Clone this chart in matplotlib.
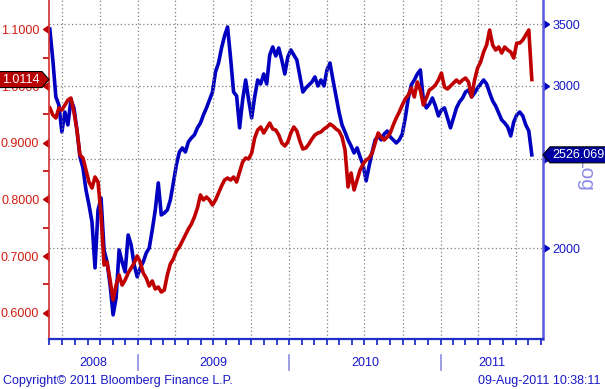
import numpy as np
import pandas as pd
import matplotlib
matplotlib.use('Agg')
import matplotlib.pyplot as plt
import matplotlib.dates as mdates
from matplotlib.ticker import FixedLocator, NullLocator, NullFormatter, FuncFormatter
from matplotlib.patches import Polygon
from matplotlib.transforms import IdentityTransform, blended_transform_factory

plt.rcParams['font.family'] = ['Liberation Sans', 'DejaVu Sans']

# data (~weekly samples)
start_date = '2008-06-02'
end_date = '2011-08-09'

ratio = [0.9612, 0.9489, 0.9436, 0.9612, 0.9577, 0.9665, 0.9753, 0.9788, 0.9541, 0.9224,
         0.8783, 0.8730, 0.8519, 0.8307, 0.8201, 0.8395, 0.8307, 0.7725, 0.6843, 0.6896,
         0.6578, 0.6226, 0.6490, 0.6667, 0.6490, 0.6578, 0.6702, 0.6790, 0.6878, 0.7002,
         0.6896, 0.6702, 0.6614, 0.6473, 0.6561, 0.6420, 0.6455, 0.6367, 0.6402, 0.6667,
         0.6861, 0.6949, 0.7090, 0.7160, 0.7266, 0.7372, 0.7478, 0.7566, 0.7690, 0.7848,
         0.8078, 0.7989, 0.8042, 0.7989, 0.7901, 0.7989, 0.8113, 0.8236, 0.8342, 0.8377,
         0.8342, 0.8395, 0.8307, 0.8483, 0.8660, 0.8730, 0.8713, 0.8818, 0.9083, 0.9224,
         0.9277, 0.9171, 0.9259, 0.9347, 0.9242, 0.9224, 0.9136, 0.8995, 0.8942, 0.9012,
         0.9171, 0.9277, 0.9206, 0.9030, 0.8889, 0.8907, 0.8977, 0.9065, 0.9136, 0.9171,
         0.9189, 0.9242, 0.9277, 0.9330, 0.9295, 0.9242, 0.9206, 0.9101, 0.8871, 0.8219,
         0.8466, 0.8166, 0.8342, 0.8519, 0.8624, 0.8695, 0.8730, 0.8818, 0.8995, 0.9171,
         0.9101, 0.9048, 0.9101, 0.9171, 0.9312, 0.9436, 0.9541, 0.9665, 0.9771, 0.9841,
         0.9965, 0.9806, 1.0071, 0.9929, 0.9665, 0.9788, 0.9929, 0.9965, 1.0018, 1.0106,
         1.0229, 0.9982, 0.9947, 1.0000, 1.0053, 1.0106, 1.0053, 1.0106, 1.0141, 1.0071,
         0.9806, 1.0106, 1.0317, 1.0423, 1.0600, 1.0723, 1.0988, 1.0723, 1.0635, 1.0688,
         1.0582, 1.0688, 1.0635, 1.0600, 1.0494, 1.0758, 1.0758, 1.0811, 1.0899, 1.0988,
         1.0114]

shcomp = [3458, 3201, 2919, 2861, 2674, 2811, 2722, 2897, 2840, 2688,
          2513, 2445, 2314, 2229, 2136, 1905, 2201, 2268, 1992, 1933,
          1826, 1694, 1767, 1992, 1933, 1886, 2068, 2017, 1919, 1863,
          1905, 1933, 1977, 2002, 2094, 2201, 2355, 2174, 2185, 2201,
          2257, 2355, 2463, 2544, 2570, 2544, 2609, 2635, 2655, 2702,
          2735, 2791, 2840, 2897, 2955, 3107, 3177, 3298, 3399, 3476,
          3217, 2955, 2926, 2702, 2897, 3045, 2897, 2770, 2919, 3045,
          3015, 3091, 3015, 3241, 3307, 3233, 3298, 3201, 3091, 3225,
          3282, 3241, 3201, 3076, 2955, 2985, 3008, 3030, 3068, 3000,
          3045, 3000, 3122, 3177, 3045, 2926, 2811, 2722, 2674, 2622,
          2583, 2538, 2570, 2513, 2463, 2367, 2457, 2544, 2622, 2648,
          2622, 2661, 2681, 2642, 2622, 2602, 2622, 2661, 2770, 2911,
          3008, 3045, 3091, 3122, 2897, 2840, 2868, 2911, 2854, 2784,
          2825, 2840, 2770, 2702, 2770, 2840, 2883, 2911, 2955, 2970,
          2919, 2948, 2985, 3015, 3045, 3015, 2948, 2890, 2854, 2805,
          2756, 2735, 2708, 2648, 2742, 2791, 2811, 2784, 2722, 2681,
          2526.069]

left_ticks = [0.6, 0.7, 0.8, 0.9, 1.0, 1.1]
left_minor = [0.65, 0.75, 0.85, 0.95, 1.05]
right_ticks = [2000, 2500, 3000, 3500]
years = [2008, 2009, 2010, 2011]

dates = pd.date_range(start_date, end_date, periods=len(ratio))

RED = '#c00000'
BLUE = '#0000c0'
RED_TXT = '#d01c10'
BLUE_TXT = '#1818c8'
GRID = '#808080'

fig = plt.figure(figsize=(6.05, 3.89), dpi=100)
ax = fig.add_axes([49 / 605, 50 / 389, 494 / 605, 339 / 389])
ax2 = ax.twinx()
ax.set_zorder(ax2.get_zorder() + 1)
ax.patch.set_visible(False)

ax2.plot(dates, shcomp, color=BLUE, lw=2.6, solid_joinstyle='round')
ax.plot(dates, ratio, color=RED, lw=2.6, solid_joinstyle='round')

ax.set_xlim(pd.Timestamp('2008-05-31'), pd.Timestamp('2011-09-05'))
ax.set_ylim(0.5538, 1.1517)
ax2.set_yscale('log')
ax2.set_ylim(1595, 3718)

# left axis (red)
ax.yaxis.set_major_locator(FixedLocator(left_ticks))
ax.yaxis.set_minor_locator(FixedLocator(left_minor))
ax.yaxis.set_major_formatter(FuncFormatter(lambda v, p: f'{v:.4f}'))
ax.tick_params(axis='y', which='major', length=0, pad=7, labelcolor=RED_TXT, labelsize=9)
ax.tick_params(axis='y', which='minor', length=4, width=1.2, color=RED)
ax.plot([0] * len(left_ticks), left_ticks, ls='none', marker=8, ms=6, color=RED,
        transform=ax.get_yaxis_transform(), clip_on=False)

# right axis (blue, log)
ax2.yaxis.set_major_locator(FixedLocator(right_ticks))
ax2.yaxis.set_minor_locator(NullLocator())
ax2.yaxis.set_major_formatter(FuncFormatter(lambda v, p: f'{v:.0f}'))
ax2.tick_params(axis='y', which='major', length=0, pad=7, labelcolor=BLUE_TXT, labelsize=9)
ax2.plot([1] * len(right_ticks), right_ticks, ls='none', marker=9, ms=6, color=BLUE,
         transform=ax2.get_yaxis_transform(), clip_on=False)
ax2.yaxis.grid(True, color=GRID, linestyle=(0, (1, 2)), lw=0.9)
ax2.set_axisbelow(True)

# time axis
ax.xaxis.set_major_locator(mdates.MonthLocator(bymonth=[1, 4, 7, 10]))
ax.xaxis.set_minor_locator(mdates.MonthLocator())
ax.xaxis.set_major_formatter(NullFormatter())
ax.tick_params(axis='x', which='both', length=4, width=1.3, color='#2030c8')
ax.xaxis.grid(True, which='major', color=GRID, linestyle=(0, (1, 2)), lw=0.9)
ax.set_axisbelow(True)

for a in (ax, ax2):
    a.spines['top'].set_visible(False)
ax.spines['right'].set_visible(False)
ax2.spines['left'].set_visible(False)
ax2.spines['bottom'].set_visible(False)
ax.spines['left'].set_color('#d03030')
ax.spines['left'].set_linewidth(1.2)
ax.spines['bottom'].set_color('#2030c8')
ax.spines['bottom'].set_linewidth(1.6)
ax2.spines['right'].set_color('#5a5ae0')
ax2.spines['right'].set_linewidth(1.8)

# year labels and separators under the axis
x0, x1 = ax.get_xlim()
tf = blended_transform_factory(ax.transData, fig.transFigure)
for yr in years:
    a = max(mdates.date2num(pd.Timestamp(f'{yr}-01-01')), x0)
    b = min(mdates.date2num(pd.Timestamp(f'{yr + 1}-01-01')), x1)
    ax.text((a + b) / 2, 26 / 389, str(yr), transform=tf, ha='center', va='center',
            fontsize=9, color=BLUE_TXT)
    if yr > years[0]:
        ax.plot([a, a], [19 / 389, 34 / 389], transform=tf, color='#8c8ce0', lw=1.2,
                clip_on=False)

fig.text(3 / 605, 8 / 389, 'Copyright\u00a9 2011 Bloomberg Finance L.P.', ha='left',
         va='center', fontsize=9, color=BLUE_TXT)
fig.text(601 / 605, 8 / 389, '09-Aug-2011 10:38:11', ha='right', va='center',
         fontsize=9, color=BLUE_TXT)

fig.text(585 / 605, (389 - 174) / 389, 'Log', rotation=270, ha='center', va='center',
         fontsize=15, color='#8c8ce6')

# last-value badges
xl = ax.transAxes.transform((0, 0))[0]
xr = ax.transAxes.transform((1, 0))[0]
yl = ax.transData.transform((mdates.date2num(dates[-1]), ratio[-1]))[1]
yr_ = ax2.transData.transform((mdates.date2num(dates[-1]), shcomp[-1]))[1]

left_badge = Polygon([(-2, yl - 8), (xl - 7, yl - 8), (xl, yl), (xl - 7, yl + 8), (-2, yl + 8)],
                     closed=True, fc='#b80000', ec='black', lw=0.8,
                     transform=IdentityTransform(), zorder=10)
fig.add_artist(left_badge)
fig.text((xl - 7) / 2, yl, f'{ratio[-1]:.4f}', transform=IdentityTransform(),
         ha='center', va='center', fontsize=9, color='white', zorder=11)

right_badge = Polygon([(xr, yr_), (xr + 7, yr_ + 8), (xr + 70, yr_ + 8), (xr + 70, yr_ - 8),
                       (xr + 7, yr_ - 8)], closed=True, fc='#0000a0', ec='black', lw=0.8,
                      transform=IdentityTransform(), zorder=10)
fig.add_artist(right_badge)
fig.text(xr + 9, yr_, f'{shcomp[-1]:.3f}', transform=IdentityTransform(),
         ha='left', va='center', fontsize=9, color='white', zorder=11)

fig.savefig('out.png', dpi=100)
